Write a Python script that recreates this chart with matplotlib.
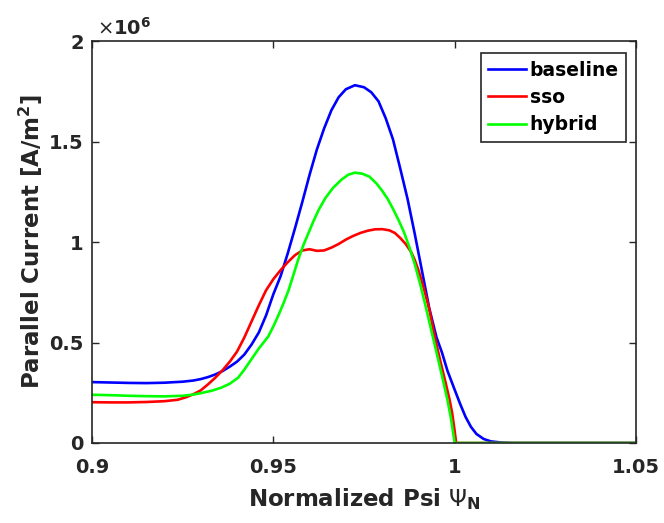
import matplotlib
matplotlib.use("Agg")
import matplotlib.pyplot as plt

# ---- data (current in units of 1e6 A/m^2) ----
baseline_x = [0.900, 0.905, 0.910, 0.915, 0.920, 0.925, 0.928, 0.930, 0.932, 0.934,
              0.936, 0.938, 0.940, 0.942, 0.944, 0.946, 0.948, 0.950, 0.952, 0.954,
              0.956, 0.958, 0.960, 0.962, 0.964, 0.966, 0.968, 0.970, 0.9725, 0.975,
              0.977, 0.979, 0.981, 0.983, 0.985, 0.987, 0.989, 0.991, 0.993, 0.995,
              0.9965, 0.998, 1.000, 1.0015, 1.003, 1.0045, 1.006, 1.008, 1.010, 1.013,
              1.016, 1.050]
baseline_y = [0.303, 0.301, 0.299, 0.298, 0.300, 0.305, 0.311, 0.318, 0.328, 0.341,
              0.358, 0.380, 0.405, 0.440, 0.490, 0.550, 0.635, 0.740, 0.830, 0.945,
              1.070, 1.200, 1.335, 1.460, 1.565, 1.655, 1.720, 1.760, 1.780, 1.770,
              1.745, 1.700, 1.615, 1.510, 1.365, 1.215, 1.040, 0.855, 0.670, 0.525,
              0.450, 0.360, 0.265, 0.195, 0.130, 0.080, 0.045, 0.020, 0.008, 0.002,
              0.0, 0.0]

sso_x = [0.900, 0.905, 0.910, 0.915, 0.920, 0.9236, 0.926, 0.928, 0.930, 0.932,
         0.934, 0.936, 0.938, 0.940, 0.942, 0.944, 0.946, 0.948, 0.950, 0.952,
         0.954, 0.956, 0.958, 0.960, 0.962, 0.964, 0.966, 0.968, 0.970, 0.972,
         0.974, 0.976, 0.978, 0.980, 0.982, 0.9835, 0.985, 0.9865, 0.988, 0.989,
         0.990, 0.9915, 0.993, 0.9945, 0.996, 0.9975, 0.9986, 0.9993, 1.000, 1.0004,
         1.050]
sso_y = [0.203, 0.202, 0.202, 0.204, 0.208, 0.215, 0.228, 0.243, 0.262, 0.292,
         0.325, 0.362, 0.405, 0.455, 0.525, 0.605, 0.685, 0.760, 0.815, 0.860,
         0.900, 0.935, 0.958, 0.964, 0.956, 0.958, 0.972, 0.990, 1.012, 1.030,
         1.045, 1.056, 1.063, 1.064, 1.058, 1.045, 1.020, 0.990, 0.950, 0.910,
         0.860, 0.770, 0.665, 0.530, 0.410, 0.300, 0.215, 0.150, 0.060, 0.0,
         0.0]

hybrid_x = [0.900, 0.905, 0.910, 0.915, 0.920, 0.925, 0.928, 0.930, 0.933, 0.9356,
            0.938, 0.9403, 0.942, 0.9439, 0.946, 0.9486, 0.950, 0.9514, 0.9528, 0.9542,
            0.9556, 0.9569, 0.9583, 0.9597, 0.9611, 0.9625, 0.9644, 0.9665, 0.9689, 0.9707,
            0.9725, 0.9745, 0.9765, 0.9785, 0.980, 0.9815, 0.983, 0.9845, 0.986, 0.9875,
            0.989, 0.9905, 0.992, 0.9935, 0.995, 0.9965, 0.998, 0.999, 1.000, 1.050]
hybrid_y = [0.240, 0.238, 0.235, 0.233, 0.232, 0.235, 0.241, 0.248, 0.260, 0.275,
            0.295, 0.325, 0.365, 0.415, 0.470, 0.530, 0.580, 0.635, 0.695, 0.760,
            0.840, 0.915, 0.985, 1.045, 1.105, 1.160, 1.220, 1.270, 1.312, 1.335,
            1.345, 1.340, 1.325, 1.290, 1.255, 1.215, 1.165, 1.110, 1.050, 0.975,
            0.890, 0.790, 0.680, 0.565, 0.450, 0.335, 0.215, 0.120, 0.0, 0.0]

series_labels = ["baseline", "sso", "hybrid"]
x_ticks = [0.9, 0.95, 1.0, 1.05]
x_tick_labels = ["0.9", "0.95", "1", "1.05"]
y_ticks = [0, 0.5, 1.0, 1.5, 2.0]
y_tick_labels = ["0", "0.5", "1", "1.5", "2"]

plt.rcParams['font.family'] = ['DejaVu Sans']
plt.rcParams['mathtext.fontset'] = 'dejavusans'

fig = plt.figure(figsize=(6.64, 5.23), dpi=100)
ax = fig.add_axes([92/664, 80/523, 544/664, 402/523])

ax.plot(baseline_x, baseline_y, color=(0, 0, 1), lw=1.9, label=series_labels[0],
        solid_joinstyle='round')
ax.plot(sso_x, sso_y, color=(1, 0, 0), lw=1.9, label=series_labels[1],
        solid_joinstyle='round')
ax.plot(hybrid_x, hybrid_y, color=(0, 1, 0), lw=1.9, label=series_labels[2],
        solid_joinstyle='round')

ax.set_xlim(0.9, 1.05)
ax.set_ylim(0, 2)
ax.set_xticks(x_ticks)
ax.set_xticklabels(x_tick_labels)
ax.set_yticks(y_ticks)
ax.set_yticklabels(y_tick_labels)

spine_col = '#262626'
for s in ax.spines.values():
    s.set_color(spine_col)
    s.set_linewidth(1.2)
ax.tick_params(direction='in', length=5, width=1.0, color=spine_col,
               top=True, right=True, labelsize=14, labelcolor='#262626')
ax.tick_params(axis='x', pad=11)
ax.tick_params(axis='y', pad=6)
for lbl in ax.get_xticklabels() + ax.get_yticklabels():
    lbl.set_fontweight('bold')

ax.set_xlabel(r'Normalized Psi $\Psi_{\mathbf{N}}$', fontsize=16.5, fontweight='bold',
              color='#262626', labelpad=6)
ax.set_ylabel(r'Parallel Current [A/m$^{\mathbf{2}}$]', fontsize=16.5, fontweight='bold',
              color='#262626', labelpad=3)

ax.text(0.01, 1.015, r'$\times\mathbf{10^{6}}$', transform=ax.transAxes,
        fontsize=14, color='#262626', ha='left', va='baseline')

leg = ax.legend(loc='upper right', bbox_to_anchor=(0.982, 0.970), borderaxespad=0,
                fancybox=False, edgecolor='#262626', framealpha=1,
                prop={'weight': 'bold', 'size': 13.5}, handlelength=2.0,
                handletextpad=0.2, labelspacing=0.45, borderpad=0.4)
leg.get_frame().set_linewidth(1.2)

fig.savefig('out.png', dpi=100, facecolor='white')
